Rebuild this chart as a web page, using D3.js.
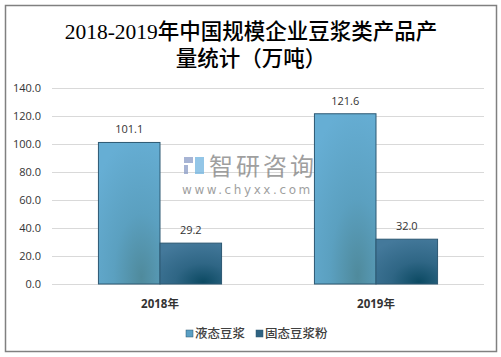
<!DOCTYPE html>
<html><head><meta charset="utf-8">
<script src="https://cdn.jsdelivr.net/npm/d3@7/dist/d3.min.js"></script>
<style>html,body{margin:0;padding:0;background:#fff;}svg{display:block;}</style>
</head><body>
<script>
const categories = ["2018年", "2019年"];
const seriesNames = ["液态豆浆", "固态豆浆粉"];
const liquidValues = [101.1, 121.6];
const solidValues = [29.2, 32.0];
const yTicks = [0, 20, 40, 60, 80, 100, 120, 140];
const titleLines = ["2018-2019年中国规模企业豆浆类产品产", "量统计（万吨）"];

const W = 501, H = 357;
const svg = d3.select("body").append("svg").attr("width", W).attr("height", H);
const defs = svg.append("defs");

function grad(id, c0, c1, c2) {
  const g = defs.append("radialGradient").attr("id", id)
    .attr("cx", "70%").attr("cy", "95%").attr("r", "100%").attr("fx", "70%").attr("fy", "95%");
  g.append("stop").attr("offset", "0%").attr("stop-color", c0);
  g.append("stop").attr("offset", "45%").attr("stop-color", c1);
  g.append("stop").attr("offset", "100%").attr("stop-color", c2);
}
grad("g0", "#4f8a9c", "#5ba0c0", "#66aed4");
grad("g1", "#0c4a63", "#2f6685", "#44799b");
const fills = ["url(#g0)", "url(#g1)"];
const legendFills = ["#5a9fc4", "#2f6382"];

svg.append("rect").attr("x", 5.5).attr("y", 5.5).attr("width", 491).attr("height", 346)
  .attr("fill", "#fff").attr("stroke", "#808080").attr("stroke-width", 1.5);

// title
svg.append("g").selectAll("text").data(titleLines).join("text")
  .attr("x", 251).attr("y", (d, i) => 39 + i * 27)
  .attr("text-anchor", "middle")
  .attr("font-family", "'Liberation Serif','Noto Sans CJK SC',serif")
  .attr("font-size", 21.5).attr("font-weight", 500).attr("fill", "#000")
  .text(d => d);

const x0 = d3.scaleBand().domain(categories).range([52, 484]).padding(0);
const x1 = d3.scaleBand().domain(seriesNames).range([x0.bandwidth() * 0.215, x0.bandwidth() * 0.785]).padding(0);
const y = d3.scaleLinear().domain([0, 140]).range([284, 88]);

// grid
svg.append("g").selectAll("line").data(yTicks).join("line")
  .attr("x1", 52).attr("x2", 484)
  .attr("y1", d => Math.round(y(d)) + 0.5).attr("y2", d => Math.round(y(d)) + 0.5)
  .attr("stroke", "#d9d9d9").attr("stroke-width", 1);

// y axis labels
const yAxis = d3.axisLeft(y).tickValues(yTicks).tickFormat(d3.format(".1f")).tickSize(0).tickPadding(0);
const ya = svg.append("g").attr("transform", "translate(41,0)").call(yAxis);
ya.select(".domain").remove();
ya.selectAll("text").attr("font-family", "'Open Sans','DejaVu Sans',sans-serif")
  .attr("font-size", 11).attr("fill", "#333");

// watermark
const wm = svg.append("g").attr("opacity", 0.75);
wm.append("rect").attr("x", 184).attr("y", 157).attr("width", 9).attr("height", 6).attr("fill", "#8a9cc6");
wm.append("rect").attr("x", 184).attr("y", 165).attr("width", 4).attr("height", 9).attr("fill", "#8a9cc6");
wm.append("rect").attr("x", 195).attr("y", 157).attr("width", 9).attr("height", 17).attr("fill", "#6fb3e0");
wm.append("text").attr("x", 209).attr("y", 175).attr("font-family", "'Noto Sans CJK SC',sans-serif")
  .attr("font-size", 24).attr("fill", "#7f7f7f").attr("letter-spacing", 3).text("智研咨询");
wm.append("text").attr("x", 182).attr("y", 194).attr("font-family", "'DejaVu Sans',sans-serif")
  .attr("font-size", 12).attr("fill", "#7f7f7f").attr("letter-spacing", 2.6).text("www.chyxx.com");

// bars
const data = categories.map((c, i) => ({ cat: c, vals: [liquidValues[i], solidValues[i]] }));
const groups = svg.append("g").selectAll("g").data(data).join("g")
  .attr("transform", d => `translate(${x0(d.cat)},0)`);
groups.selectAll("rect").data(d => d.vals.map((v, j) => ({ v, s: seriesNames[j], j }))).join("rect")
  .attr("x", d => x1(d.s)).attr("width", x1.bandwidth())
  .attr("y", d => y(d.v)).attr("height", d => y(0) - y(d.v))
  .attr("fill", d => fills[d.j]).attr("stroke", "#2c5872").attr("stroke-width", 1);
groups.selectAll("text").data(d => d.vals.map((v, j) => ({ v, s: seriesNames[j] }))).join("text")
  .attr("x", d => x1(d.s) + x1.bandwidth() / 2).attr("y", d => y(d.v) - 9)
  .attr("text-anchor", "middle").attr("font-family", "'Open Sans','DejaVu Sans',sans-serif")
  .attr("font-size", 11).attr("fill", "#333").text(d => d.v.toFixed(1));

// x labels
const xAxis = d3.axisBottom(x0).tickSize(0).tickPadding(0);
const xa = svg.append("g").attr("transform", "translate(0,300)").call(xAxis);
xa.select(".domain").remove();
xa.selectAll("text").attr("font-family", "'Open Sans','Noto Sans CJK SC',sans-serif")
  .attr("font-size", 11.5).attr("font-weight", "bold").attr("fill", "#333");

// legend
const legX = [186, 256];
const leg = svg.append("g").selectAll("g").data(seriesNames).join("g")
  .attr("transform", (d, i) => `translate(${legX[i]},330)`);
leg.append("rect").attr("width", 7).attr("height", 7).attr("fill", (d, i) => legendFills[i])
  .attr("stroke", "#2c5872").attr("stroke-width", 0.5);
leg.append("text").attr("x", 9).attr("y", 8).attr("font-family", "'Noto Sans CJK SC',sans-serif")
  .attr("font-size", 12.5).attr("font-weight", 500).attr("fill", "#404040").text(d => d);
</script>
</body></html>
